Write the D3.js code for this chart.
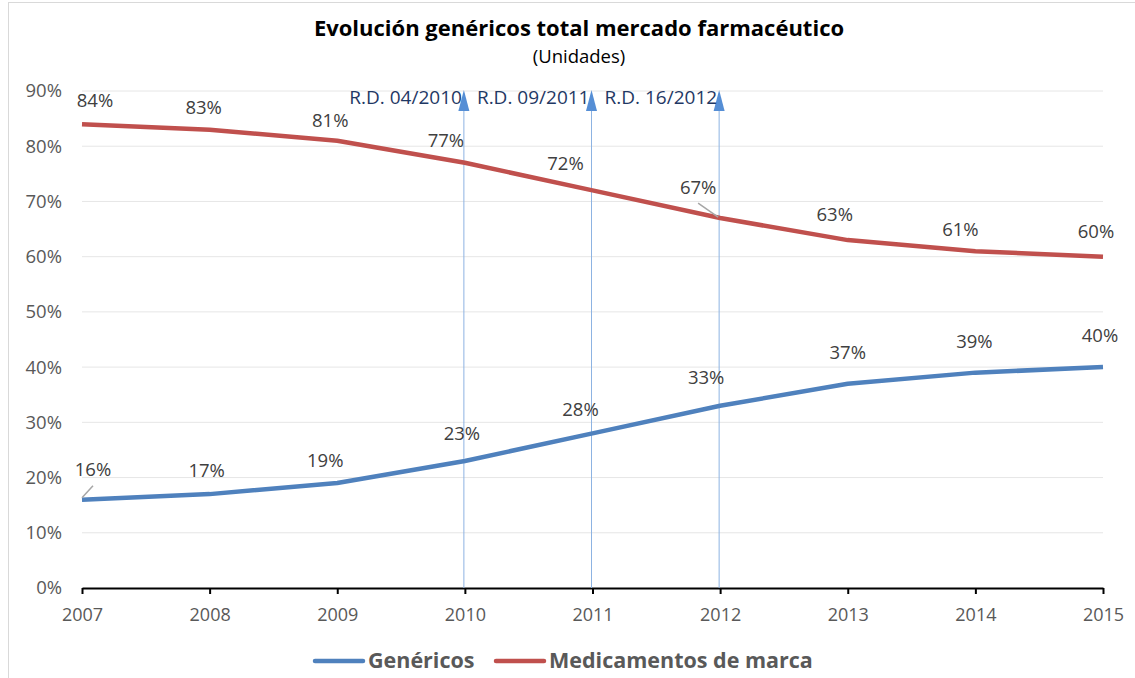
<!DOCTYPE html>
<html>
<head>
<meta charset="utf-8">
<title>Evolución genéricos</title>
<script src="https://cdn.jsdelivr.net/npm/d3@7"></script>
<style>
body { margin: 0; background: #fff; }
svg { display: block; font-family: "Open Sans", sans-serif; }
</style>
</head>
<body>
<svg id="chart"></svg>
<script>
// datos
var years = [2007, 2008, 2009, 2010, 2011, 2012, 2013, 2014, 2015];
var genericos = [16, 17, 19, 23, 28, 33, 37, 39, 40];
var marca = [84, 83, 81, 77, 72, 67, 63, 61, 60];
var yTicks = [0, 10, 20, 30, 40, 50, 60, 70, 80, 90];
var decretos = [
	{ year: 2010, label: "R.D. 04/2010" },
	{ year: 2011, label: "R.D. 09/2011" },
	{ year: 2012, label: "R.D. 16/2012" }
];

// desplazamiento manual de etiquetas (como en el Excel original)
var nudgeGen = [[11, -30], [-3, -24], [-12, -23], [-3, -27], [-12, -24], [-14, -28], [0, -31], [-1, -31], [-3, -32]];
var nudgeMarca = [[13, -24], [-6, -22], [-7, -20], [-19, -22], [-27, -27], [-22, -31], [-13, -26], [-15, -22], [-7, -25]];

var W = 1135, H = 678;
var svg = d3.select("#chart").attr("width", W).attr("height", H);

// marco del gráfico
svg.append("rect")
	.attr("x", 8.5).attr("y", 2.5)
	.attr("width", 1200).attr("height", 700)
	.attr("fill", "none").attr("stroke", "#d9d9d9");

var x = d3.scaleLinear().domain([2007, 2015]).range([82, 1103]);
var y = d3.scaleLinear().domain([0, 90]).range([588, 91]);

// rejilla
svg.append("g").selectAll("line")
	.data(yTicks.filter(function(d) { return d > 0; }))
	.enter().append("line")
	.attr("x1", 82).attr("x2", 1103)
	.attr("y1", function(d) { return y(d); })
	.attr("y2", function(d) { return y(d); })
	.attr("stroke", "#e6e6e6").attr("stroke-width", 1);

// eje Y
var yAxis = svg.append("g")
	.attr("transform", "translate(82,0)")
	.call(d3.axisLeft(y).tickValues(yTicks).tickSize(0).tickPadding(20)
		.tickFormat(function(d) { return d + "%"; }));
yAxis.select(".domain").remove();
yAxis.selectAll("text").attr("fill", "#595959").style("font-size", "18.5px")
	.style("font-family", "'Open Sans', sans-serif");

// eje X
var xAxis = svg.append("g")
	.attr("transform", "translate(0,588)")
	.call(d3.axisBottom(x).tickValues(years).tickSize(6).tickSizeOuter(0).tickPadding(14)
		.tickFormat(d3.format("d")));
xAxis.select(".domain").attr("stroke", "#000").attr("stroke-width", 2);
xAxis.selectAll(".tick line").attr("stroke", "#000").attr("stroke-width", 2);
xAxis.selectAll("text").attr("fill", "#595959").style("font-size", "18px")
	.style("font-family", "'Open Sans', sans-serif");

// líneas de los decretos
var rd = svg.append("g");
rd.selectAll("line").data(decretos).enter().append("line")
	.attr("x1", function(d) { return x(d.year) - 1; })
	.attr("x2", function(d) { return x(d.year) - 1; })
	.attr("y1", 588).attr("y2", 104)
	.attr("stroke", "#8db3e2").attr("stroke-width", 1);
rd.selectAll("path").data(decretos).enter().append("path")
	.attr("d", function(d) {
		var cx = x(d.year) - 1;
		return "M" + cx + ",90 L" + (cx + 5.5) + ",111 L" + (cx - 5.5) + ",111 Z";
	})
	.attr("fill", "#558ed5");
rd.selectAll("text").data(decretos).enter().append("text")
	.attr("x", function(d) { return x(d.year) - 3; })
	.attr("y", 104)
	.attr("text-anchor", "end")
	.attr("fill", "#1f3864")
	.style("font-size", "19px")
	.text(function(d) { return d.label; });

// series
var series = [
	{ name: "Genéricos", values: genericos, color: "#4f81bd", nudge: nudgeGen },
	{ name: "Medicamentos de marca", values: marca, color: "#c0504d", nudge: nudgeMarca }
];

var line = d3.line()
	.x(function(d, i) { return x(years[i]); })
	.y(function(d) { return y(d); });

series.forEach(function(s) {
	svg.append("path")
		.datum(s.values)
		.attr("d", line)
		.attr("fill", "none")
		.attr("stroke", s.color)
		.attr("stroke-width", 4.5)
		.attr("stroke-linejoin", "round");
});

// líneas guía de etiquetas
svg.append("line")
	.attr("x1", x(2007)).attr("y1", y(genericos[0]) - 2)
	.attr("x2", x(2007) + 11).attr("y2", y(genericos[0]) - 14)
	.attr("stroke", "#a6a6a6").attr("stroke-width", 1.5);
svg.append("line")
	.attr("x1", x(2012) - 2).attr("y1", y(marca[5]) - 1)
	.attr("x2", x(2012) - 22).attr("y2", y(marca[5]) - 15)
	.attr("stroke", "#a6a6a6").attr("stroke-width", 1.5);

// etiquetas de datos
series.forEach(function(s) {
	svg.append("g").selectAll("text")
		.data(s.values).enter().append("text")
		.attr("x", function(d, i) { return x(years[i]) + s.nudge[i][0]; })
		.attr("y", function(d, i) { return y(d) + s.nudge[i][1] + 6.5; })
		.attr("text-anchor", "middle")
		.attr("fill", "#404040")
		.style("font-size", "18.5px")
		.text(function(d) { return d + "%"; });
});

// título
svg.append("text")
	.attr("x", 579).attr("y", 36)
	.attr("text-anchor", "middle")
	.attr("fill", "#000")
	.style("font-size", "22px").style("font-weight", "bold")
	.text("Evolución genéricos total mercado farmacéutico");
svg.append("text")
	.attr("x", 579).attr("y", 63)
	.attr("text-anchor", "middle")
	.attr("fill", "#000")
	.style("font-size", "18.5px")
	.text("(Unidades)");

// leyenda
var legend = svg.append("g");
var legX = [313, 494];
series.forEach(function(s, i) {
	legend.append("line")
		.attr("x1", legX[i] + 2).attr("x2", legX[i] + 50)
		.attr("y1", 661).attr("y2", 661)
		.attr("stroke", s.color).attr("stroke-width", 4.5)
		.attr("stroke-linecap", "round");
	legend.append("text")
		.attr("x", legX[i] + 55).attr("y", 668)
		.attr("fill", "#595959")
		.style("font-size", "21.5px").style("font-weight", "bold")
		.text(s.name);
});
</script>
</body>
</html>
